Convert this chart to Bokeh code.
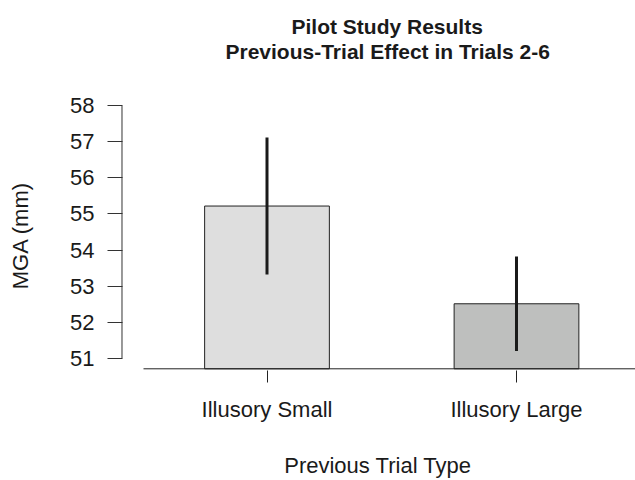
from bokeh.plotting import figure
from bokeh.models import ColumnDataSource, Range1d, FixedTicker, Title
from bokeh.embed import file_html
from bokeh.resources import INLINE

# ---- data ----
categories = ["Illusory Small", "Illusory Large"]
means = [55.22, 52.51]
errors = [1.90, 1.31]
bar_colors = ["#DEDEDE", "#BEBFBE"]
y_ticks = [51, 52, 53, 54, 55, 56, 57, 58]
title_lines = ["Pilot Study Results", "Previous-Trial Effect in Trials 2-6"]
x_title = "Previous Trial Type"
y_title = "MGA (mm)"

# ---- layout constants ----
BASE = 50.707          # bar baseline (bottom of bars)
FONT = "Liberation Sans"
TXT = "#1a1a1a"

xs = [i + 1 for i in range(len(categories))]
lower = [m - e for m, e in zip(means, errors)]
upper = [m + e for m, e in zip(means, errors)]
src = ColumnDataSource(dict(x=xs, top=means, color=bar_colors,
                            lower=lower, upper=upper))

X0, X1 = 0.4128, 2.477
p = figure(width=635, height=480, output_backend="svg", toolbar_location=None,
           x_range=Range1d(X0, X1), y_range=Range1d(50.660, 58.146),
           min_border_left=120, min_border_right=0,
           min_border_top=100, min_border_bottom=109)
p.outline_line_color = None
p.xgrid.grid_line_color = None
p.ygrid.grid_line_color = None
p.background_fill_color = "white"
p.border_fill_color = "white"

p.vbar(x="x", width=0.5, bottom=BASE, top="top", fill_color="color",
       line_color="#222222", line_width=1, source=src)

# error bars (drawn after the bars so they sit on top)
p.segment(x0="x", y0="lower", x1="x", y1="upper", source=src,
          line_color=TXT, line_width=3)

# baseline line under the bars and the y axis line (limited to tick span)
p.segment(x0=[0.505], y0=[BASE], x1=[X1], y1=[BASE], line_color="#222222", line_width=1)
p.segment(x0=[X0 + 1.5 / 249.5], y0=[y_ticks[0]], x1=[X0 + 1.5 / 249.5], y1=[y_ticks[-1]],
          line_color="#333333", line_width=1)

# y axis
ya = p.yaxis[0]
ya.ticker = FixedTicker(ticks=y_ticks)
ya.axis_line_color = None
ya.major_tick_in = 2
ya.major_tick_out = 13
ya.major_tick_line_color = "#333333"
ya.minor_tick_line_color = None
ya.major_label_standoff = 13
ya.major_label_text_font = FONT
ya.major_label_text_font_size = "22px"
ya.major_label_text_color = TXT
ya.axis_label = y_title
ya.axis_label_text_font = FONT
ya.axis_label_text_font_size = "22px"
ya.axis_label_text_font_style = "normal"
ya.axis_label_text_color = TXT
ya.axis_label_standoff = 34

# x axis
xa = p.xaxis[0]
xa.ticker = FixedTicker(ticks=xs)
xa.major_label_overrides = {x: c for x, c in zip(xs, categories)}
xa.axis_line_color = None
xa.major_tick_in = 0
xa.major_tick_out = 12
xa.major_tick_line_color = "#222222"
xa.minor_tick_line_color = None
xa.major_label_standoff = 14
xa.major_label_text_font = FONT
xa.major_label_text_font_size = "22px"
xa.major_label_text_color = TXT
xa.axis_label = x_title
xa.axis_label_text_font = FONT
xa.axis_label_text_font_size = "22px"
xa.axis_label_text_font_style = "normal"
xa.axis_label_text_color = TXT
xa.axis_label_standoff = 28

# spacer between frame and title block
p.add_layout(Title(text=" ", text_font_size="1px", standoff=35), "above")
# titles: inner line (closest to frame) added first
title_offsets = [171, 105]
for line, off in reversed(list(zip(title_lines, title_offsets))):
    p.add_layout(Title(text=line, align="left", offset=off, standoff=0,
                       text_font=FONT, text_font_size="21px",
                       text_font_style="bold", text_color=TXT), "above")

open("out.html", "w").write(file_html(p, INLINE))
